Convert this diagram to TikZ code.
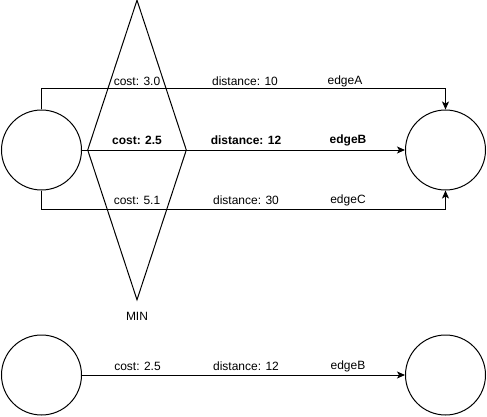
\documentclass[tikz,border=0pt]{standalone}
\usepackage{fontspec}
\setmainfont{Liberation Sans}
\usetikzlibrary{arrows.meta,shapes.geometric}

\begin{document}
\begin{tikzpicture}[x=1pt,y=-1pt,line width=1pt,
    state/.style={draw,circle,minimum size=80pt,inner sep=0pt},
    lbl/.style={font=\fontsize{12}{14}\selectfont,inner sep=0pt},
    arr/.style={-{Stealth[length=8pt,width=7pt,inset=2pt]}}]
        \useasboundingbox (0,0) rectangle (487,417);

        \node[state] (src) at (41.5,150) {};
        \node[state] (dst) at (445.5,150) {};
        \node[draw,diamond,minimum width=99pt,minimum height=300pt,inner sep=0pt] (min) at (137,150) {};
        \node[lbl] (minlbl) at (137,316) {MIN};

        \draw[arr] (src.north) -- (src.north |- 0,89) -| (dst.north);
        \draw[arr] (src.east) -- (dst.west);
        \draw[arr] (src.south) -- (src.south |- 0,209) -| (dst.south);

        \node[lbl] (costA) at (137,81) {cost: 3.0};
        \node[lbl] (distA) at (245,81) {distance: 10};
        \node[lbl] (nameA) at (345,81) {edgeA};
        \node[lbl,font=\fontsize{12}{14}\selectfont\bfseries] (costB) at (137,140) {cost: 2.5};
        \node[lbl,font=\fontsize{12}{14}\selectfont\bfseries] (distB) at (246,140) {distance: 12};
        \node[lbl,font=\fontsize{12}{14}\selectfont\bfseries] (nameB) at (348,140) {edgeB};
        \node[lbl] (costC) at (137,200) {cost: 5.1};
        \node[lbl] (distC) at (246,200) {distance: 30};
        \node[lbl] (nameC) at (348,200) {edgeC};

        % picked edge
        \node[state] (src2) at (41.5,375) {};
        \node[state] (dst2) at (445.5,375) {};
        \draw[arr] (src2.east) -- (dst2.west);
        \node[lbl] (cost2) at (137.5,366) {cost: 2.5};
        \node[lbl] (dist2) at (246,366) {distance: 12};
        \node[lbl] (name2) at (348,366) {edgeB};
      \end{tikzpicture}
\end{document}
